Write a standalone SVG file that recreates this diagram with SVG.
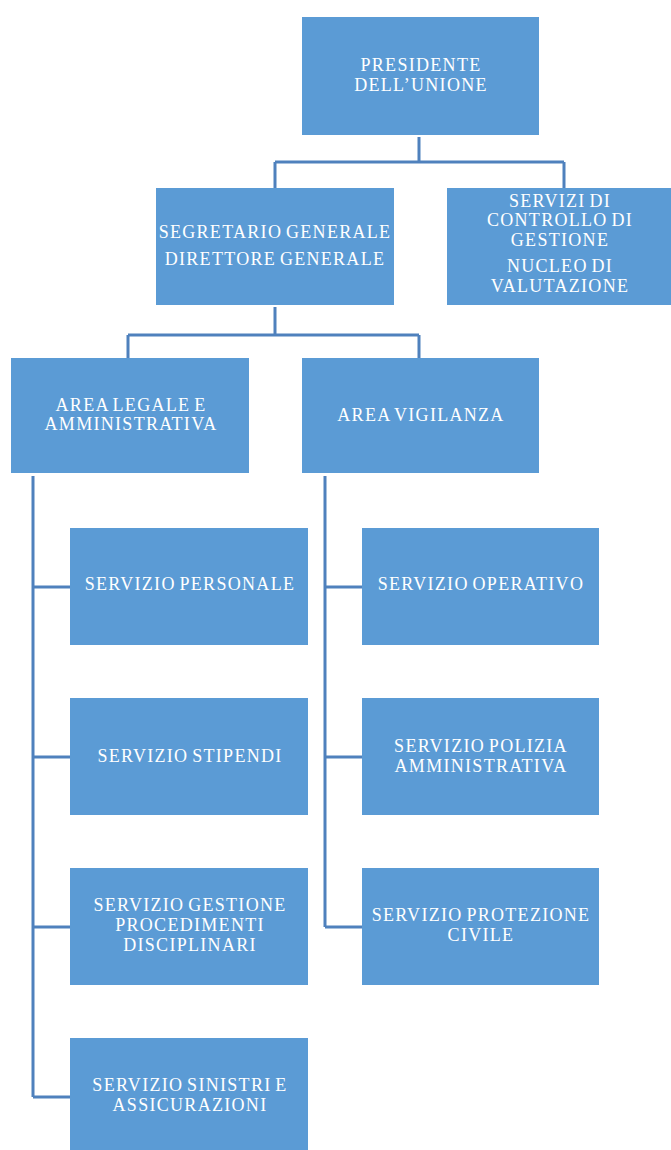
<svg xmlns="http://www.w3.org/2000/svg" width="671" height="1150" viewBox="0 0 671 1150">
<style>
.box{fill:#5B9BD5}
.t{font-family:"Liberation Serif","Times New Roman",serif;font-size:18px;fill:#FFFFFF;text-anchor:middle;letter-spacing:1.3px;word-spacing:-2px}
.c{fill:none;stroke:#4F81BD;stroke-width:3}
</style>
<rect width="671" height="1150" fill="#FFFFFF"/>
<g id="connectors">
<path class="c" d="M419 137V162M275 162H564M275 162V188M564 162V188"/>
<path class="c" d="M275 307V335M128 335H419M128 335V358M419 335V358"/>
<path class="c" d="M33 476V1097M33 587H70M33 757H70M33 927H70M33 1097H70"/>
<path class="c" d="M325 476V927M325 587H362M325 757H362M325 927H362"/>
</g>
<g id="presidente">
<rect class="box" x="302" y="17" width="237" height="118"/>
<text class="t" x="421" y="71">PRESIDENTE</text>
<text class="t" x="421" y="91">DELL’UNIONE</text>
</g>
<g id="segretario">
<rect class="box" x="156" y="188" width="238" height="117"/>
<text class="t" x="275" y="238">SEGRETARIO GENERALE</text>
<text class="t" x="275" y="265">DIRETTORE GENERALE</text>
</g>
<g id="controllo">
<rect class="box" x="447" y="188" width="224" height="117"/>
<text class="t" x="560" y="207">SERVIZI DI</text>
<text class="t" x="560" y="226">CONTROLLO DI</text>
<text class="t" x="560" y="246">GESTIONE</text>
<text class="t" x="560" y="272">NUCLEO DI</text>
<text class="t" x="560" y="292">VALUTAZIONE</text>
</g>
<g id="area-legale">
<rect class="box" x="11" y="358" width="238" height="115"/>
<text class="t" x="131" y="411">AREA LEGALE E</text>
<text class="t" x="131" y="430">AMMINISTRATIVA</text>
</g>
<g id="area-vigilanza">
<rect class="box" x="302" y="358" width="237" height="115"/>
<text class="t" x="421" y="421">AREA VIGILANZA</text>
</g>
<g id="personale">
<rect class="box" x="70" y="528" width="238" height="117"/>
<text class="t" x="190" y="590">SERVIZIO PERSONALE</text>
</g>
<g id="stipendi">
<rect class="box" x="70" y="698" width="238" height="117"/>
<text class="t" x="190" y="762">SERVIZIO STIPENDI</text>
</g>
<g id="disciplinari">
<rect class="box" x="70" y="868" width="238" height="117"/>
<text class="t" x="190" y="911">SERVIZIO GESTIONE</text>
<text class="t" x="190" y="931">PROCEDIMENTI</text>
<text class="t" x="190" y="951">DISCIPLINARI</text>
</g>
<g id="sinistri">
<rect class="box" x="70" y="1038" width="238" height="112"/>
<text class="t" x="190" y="1091">SERVIZIO SINISTRI E</text>
<text class="t" x="190" y="1111">ASSICURAZIONI</text>
</g>
<g id="operativo">
<rect class="box" x="362" y="528" width="237" height="117"/>
<text class="t" x="481" y="590">SERVIZIO OPERATIVO</text>
</g>
<g id="polizia">
<rect class="box" x="362" y="698" width="237" height="117"/>
<text class="t" x="481" y="752">SERVIZIO POLIZIA</text>
<text class="t" x="481" y="772">AMMINISTRATIVA</text>
</g>
<g id="protezione">
<rect class="box" x="362" y="868" width="237" height="117"/>
<text class="t" x="481" y="921">SERVIZIO PROTEZIONE</text>
<text class="t" x="481" y="941">CIVILE</text>
</g>
</svg>
